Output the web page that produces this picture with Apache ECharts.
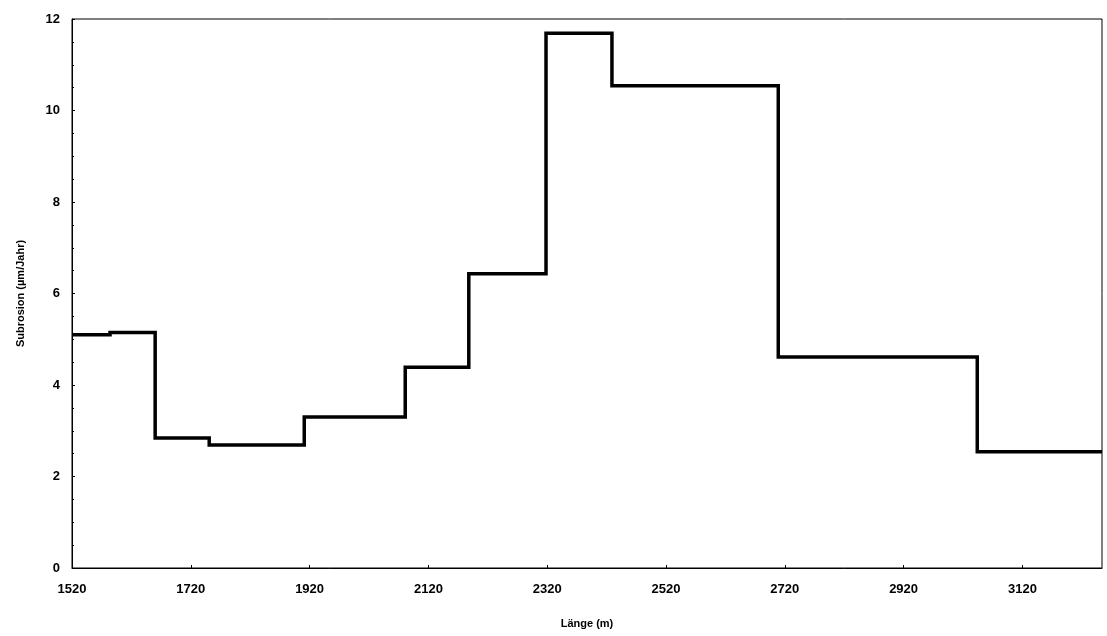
<!DOCTYPE html>
<html>
<head>
<meta charset="utf-8">
<script src="https://cdn.jsdelivr.net/npm/echarts@6/dist/echarts.min.js"></script>
<style>
html,body{margin:0;padding:0;background:#fff;}
#chart{width:1107px;height:636px;}
</style>
</head>
<body>
<div id="chart"></div>
<script>
// Step breakpoints (Länge, m) and subrosion values (µm/Jahr) holding from each breakpoint
const lengths = [1520, 1584, 1660, 1751, 1911, 2081, 2188, 2318, 2429, 2709, 3044, 3254];
const subrosion = [5.10, 5.15, 2.84, 2.69, 3.30, 4.39, 6.43, 11.69, 10.54, 4.61, 2.54, 2.54];
const xMin = 1520, xMax = 3254, xStep = 200;
const yMin = 0, yMax = 12, yStep = 2;
const xTitle = 'Länge (m)';
const yTitle = 'Subrosion (µm/Jahr)';

const points = lengths.map((x, i) => [x, subrosion[i]]);
const font = 'Liberation Sans, Arial, sans-serif';

const chart = echarts.init(document.getElementById('chart'), null, {renderer: 'canvas'});
chart.setOption({
  backgroundColor: '#fff',
  animation: false,
  grid: {left: 72, right: 5, top: 19, bottom: 68, show: true, borderColor: '#000', borderWidth: 1, backgroundColor: 'transparent'},
  xAxis: {
    type: 'value', min: xMin, max: xMax, interval: xStep,
    name: xTitle, nameLocation: 'middle', nameGap: 50,
    nameTextStyle: {color: '#000', fontWeight: 'bold', fontSize: 11, fontFamily: font},
    axisLine: {show: true, lineStyle: {color: '#000', width: 1}},
    axisTick: {show: true, inside: true, length: 3, lineStyle: {color: '#000'}},
    axisLabel: {color: '#000', fontWeight: 'bold', fontSize: 13, fontFamily: font, margin: 15, showMaxLabel: false,
      formatter: v => String(v)},
    splitLine: {show: false}
  },
  yAxis: {
    type: 'value', min: yMin, max: yMax, interval: yStep,
    name: yTitle, nameLocation: 'middle', nameGap: 46, nameRotate: 90,
    nameTextStyle: {color: '#000', fontWeight: 'bold', fontSize: 11, fontFamily: font},
    axisLine: {show: true, lineStyle: {color: '#000', width: 1}},
    axisTick: {show: true, inside: true, length: 3, lineStyle: {color: '#000'}},
    minorTick: {show: true, splitNumber: 4, length: 2, lineStyle: {color: '#000'}},
    axisLabel: {color: '#000', fontWeight: 'bold', fontSize: 13, fontFamily: font, margin: 12},
    splitLine: {show: false}
  },
  series: [{
    type: 'line', step: 'end', data: points, showSymbol: false, symbol: 'none',
    lineStyle: {color: '#000', width: 3.5, join: 'miter', cap: 'butt'},
    clip: true
  }]
});
</script>
</body>
</html>
